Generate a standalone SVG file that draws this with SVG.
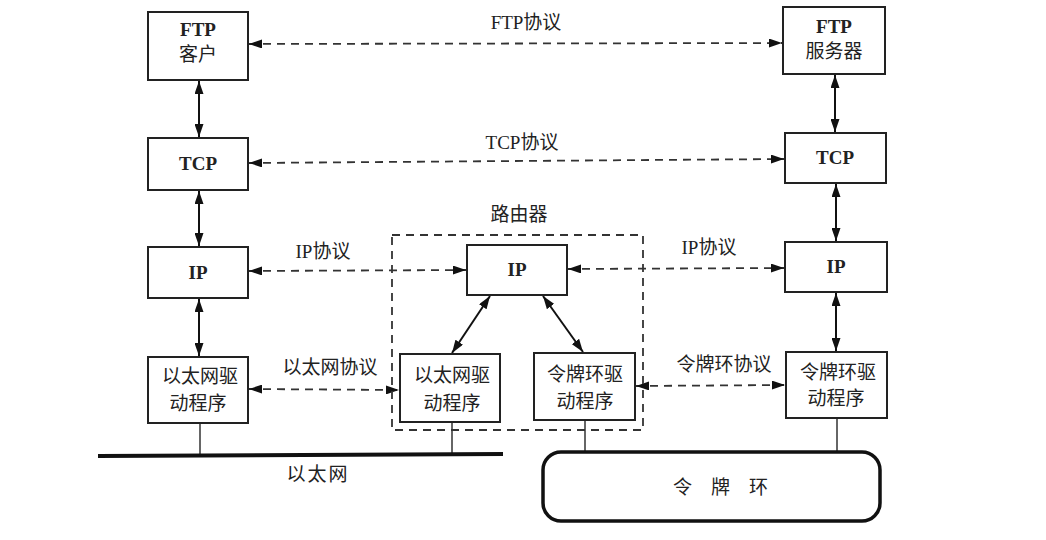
<svg xmlns="http://www.w3.org/2000/svg" width="1046" height="540" viewBox="0 0 1046 540">
<style>
.box{fill:#fff;stroke:#222;stroke-width:2}
.t{font-family:"Liberation Serif","Noto Sans CJK SC",serif;font-size:19px;fill:#222;text-anchor:middle}
.b{font-weight:bold}
.solid{stroke:#111;stroke-width:2;fill:none}
.dash{stroke:#333;stroke-width:1.8;fill:none;stroke-dasharray:8,6}
.thin{stroke:#333;stroke-width:1.5;fill:none}
</style>
<defs>
<marker id="ah" viewBox="0 0 13 9" refX="13" refY="4.5" markerWidth="13" markerHeight="9" markerUnits="userSpaceOnUse" orient="auto-start-reverse">
<path d="M0,0 L13,4.5 L0,9 Z" fill="#111"/>
</marker>
</defs>
<g id="connectors">
<line class="dash" x1="249" y1="44" x2="782" y2="43" marker-start="url(#ah)" marker-end="url(#ah)"/>
<line class="dash" x1="249" y1="163" x2="784" y2="159" marker-start="url(#ah)" marker-end="url(#ah)"/>
<line class="dash" x1="249" y1="271" x2="466" y2="270" marker-start="url(#ah)" marker-end="url(#ah)"/>
<line class="dash" x1="568" y1="269" x2="784" y2="268" marker-start="url(#ah)" marker-end="url(#ah)"/>
<line class="dash" x1="249" y1="389" x2="399" y2="390" marker-start="url(#ah)" marker-end="url(#ah)"/>
<line class="dash" x1="636" y1="386" x2="785" y2="385" marker-start="url(#ah)" marker-end="url(#ah)"/>
<line class="solid" x1="199" y1="81" x2="199" y2="137" marker-start="url(#ah)" marker-end="url(#ah)"/>
<line class="solid" x1="199" y1="191" x2="199" y2="246" marker-start="url(#ah)" marker-end="url(#ah)"/>
<line class="solid" x1="199" y1="299" x2="199" y2="356" marker-start="url(#ah)" marker-end="url(#ah)"/>
<line class="solid" x1="835" y1="75" x2="835" y2="132" marker-start="url(#ah)" marker-end="url(#ah)"/>
<line class="solid" x1="836" y1="184" x2="836" y2="241" marker-start="url(#ah)" marker-end="url(#ah)"/>
<line class="solid" x1="836" y1="293" x2="836" y2="351" marker-start="url(#ah)" marker-end="url(#ah)"/>
<line class="solid" x1="490" y1="296" x2="452" y2="353" marker-start="url(#ah)" marker-end="url(#ah)"/>
<line class="solid" x1="543" y1="296" x2="583" y2="352" marker-start="url(#ah)" marker-end="url(#ah)"/>
<line class="thin" x1="200" y1="424" x2="200" y2="456"/>
<line class="thin" x1="452" y1="423" x2="452" y2="455"/>
<line class="thin" x1="585" y1="421" x2="585" y2="453"/>
<line class="thin" x1="837" y1="419" x2="837" y2="451"/>
</g>
<g id="router">
<rect x="392" y="235" width="251" height="195" fill="none" stroke="#333" stroke-width="1.8" stroke-dasharray="8,6"/>
<text class="t" x="519" y="221">路由器</text>
</g>
<g id="ethernet">
<line x1="98" y1="456" x2="503" y2="454" stroke="#111" stroke-width="4"/>
<text class="t" x="318" y="481" letter-spacing="2">以太网</text>
</g>
<g id="tokenring">
<rect x="543" y="452" width="337" height="69" rx="18" fill="#fff" stroke="#111" stroke-width="3.5"/>
<text class="t" x="730" y="494" letter-spacing="19">令牌环</text>
</g>
<g id="ftp-client"><rect class="box" x="148" y="12" width="100" height="68"/><text class="t b" x="198" y="36">FTP</text><text class="t" x="198" y="61">客户</text></g>
<g id="tcp-left"><rect class="box" x="148" y="138" width="100" height="52"/><text class="t b" x="198" y="170">TCP</text></g>
<g id="ip-left"><rect class="box" x="148" y="247" width="100" height="51"/><text class="t b" x="198" y="279">IP</text></g>
<g id="eth-left"><rect class="box" x="148" y="357" width="100" height="66"/><text class="t" x="200" y="383">以太网驱</text><text class="t" x="198" y="410">动程序</text></g>
<g id="ip-router"><rect class="box" x="467" y="245" width="100" height="50"/><text class="t b" x="517" y="276">IP</text></g>
<g id="eth-router"><rect class="box" x="400" y="354" width="100" height="68"/><text class="t" x="452" y="382">以太网驱</text><text class="t" x="452" y="410">动程序</text></g>
<g id="tr-router"><rect class="box" x="534" y="353" width="101" height="67"/><text class="t" x="585" y="381">令牌环驱</text><text class="t" x="585" y="408">动程序</text></g>
<g id="ftp-server"><rect class="box" x="783" y="7" width="102" height="67"/><text class="t b" x="834" y="33">FTP</text><text class="t" x="834" y="58">服务器</text></g>
<g id="tcp-right"><rect class="box" x="785" y="133" width="101" height="50"/><text class="t b" x="835" y="164">TCP</text></g>
<g id="ip-right"><rect class="box" x="785" y="242" width="102" height="50"/><text class="t b" x="836" y="273">IP</text></g>
<g id="tr-right"><rect class="box" x="786" y="352" width="101" height="66"/><text class="t" x="838" y="379">令牌环驱</text><text class="t" x="836" y="405">动程序</text></g>
<g id="labels">
<text class="t" x="526" y="29">FTP协议</text>
<text class="t" x="522" y="149">TCP协议</text>
<text class="t" x="323" y="258">IP协议</text>
<text class="t" x="709" y="254">IP协议</text>
<text class="t" x="330" y="374">以太网协议</text>
<text class="t" x="724" y="371">令牌环协议</text>
</g>
</svg>
